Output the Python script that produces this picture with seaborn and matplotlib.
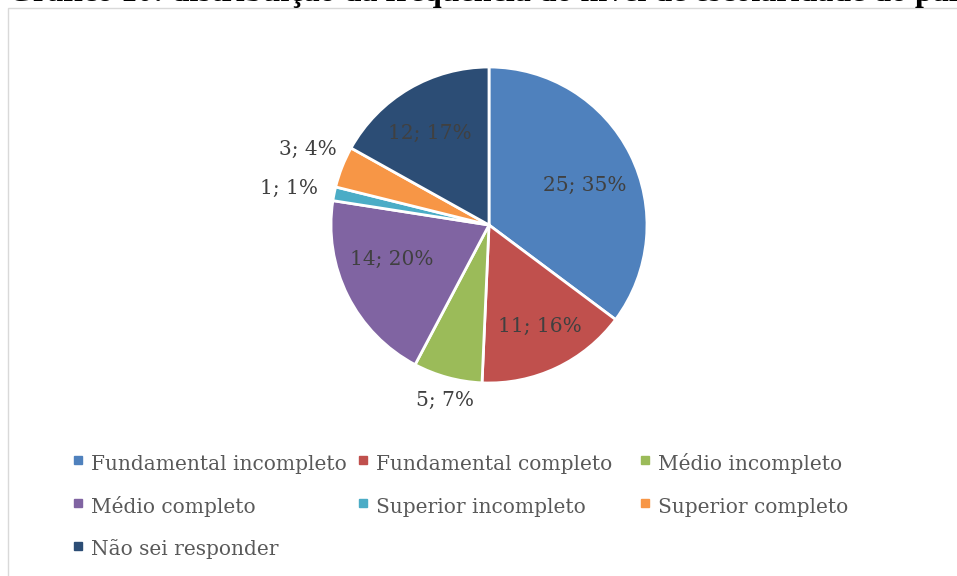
import numpy as np
import matplotlib
matplotlib.use('Agg')
import matplotlib.pyplot as plt
from matplotlib.lines import Line2D
from matplotlib.patches import Rectangle
import seaborn as sns

categories = ['Fundamental incompleto', 'Fundamental completo', 'Médio incompleto',
              'Médio completo', 'Superior incompleto', 'Superior completo',
              'Não sei responder']
counts = [25, 11, 5, 14, 1, 3, 12]
percents = [35, 16, 7, 20, 1, 4, 17]  # as printed on the chart
colors = ['#4F81BD', '#C0504D', '#9BBB59', '#8064A2', '#4BACC6', '#F79646', '#2C4D75']
title = 'Gráfico 10: distribuição da frequência do nível de escolaridade do pai'

# label placement (radius factor, angle nudge in degrees) - mimics excel best fit
label_r = [0.654, 0.717, 1.147, 0.654, 1.285, 1.24, 0.69]
label_da = [-4.0, 1.2, 1.2, -6.9, 1.0, -1.2, 2.7]

sns.set_theme(style='white')
plt.rcParams['font.family'] = ['DejaVu Serif', 'DejaVu Sans']

W, H = 957, 576
fig = plt.figure(figsize=(W / 100, H / 100), dpi=100)

# chart frame (light gray border, cut by page edge)
fig.patches.append(Rectangle((8 / W, -0.1), 1.2, 1 - 8 / H + 0.1, transform=fig.transFigure,
                             fill=False, edgecolor='#D9D9D9', linewidth=1.0))

# title sits mostly above the page edge in the reference
fig.text(8 / W, 1 - 1.5 / H, title, fontsize=23, fontweight='bold', family='Liberation Serif',
         va='baseline', ha='left', color='black')

cx, cy, r = 489, 225, 158
ax = fig.add_axes([(cx - r) / W, (H - cy - r) / H, 2 * r / W, 2 * r / H])
wedges, _ = ax.pie(counts, colors=sns.color_palette(colors), startangle=90, counterclock=False,
                   radius=1, wedgeprops=dict(edgecolor='white', linewidth=2.0))
ax.set_xlim(-1, 1)
ax.set_ylim(-1, 1)
ax.set_aspect('equal')
ax.axis('off')

for w, n, p, f, da in zip(wedges, counts, percents, label_r, label_da):
    ang = np.deg2rad((w.theta1 + w.theta2) / 2 + da)
    ax.text(f * np.cos(ang), f * np.sin(ang), f'{n}; {p}%', ha='center', va='center',
            fontsize=14.5, color='#404040', clip_on=False)

# legend laid out in three fixed-width columns, like excel
handles = [Line2D([], [], marker='s', linestyle='', markersize=6, color=c) for c in colors]
cols = [[0, 3, 6], [1, 4], [2, 5]]
col_x = [72, 357, 639]
for idx, x in zip(cols, col_x):
    fig.legend([handles[i] for i in idx], [categories[i] for i in idx],
               loc='upper left', bbox_to_anchor=(x / W, 1 - 451 / H), frameon=False,
               fontsize=14.5, labelcolor='#595959', handlelength=0.6, handletextpad=0.35,
               handleheight=1.5, labelspacing=0.9, borderpad=0, borderaxespad=0)

fig.savefig('out.png', dpi=100)
